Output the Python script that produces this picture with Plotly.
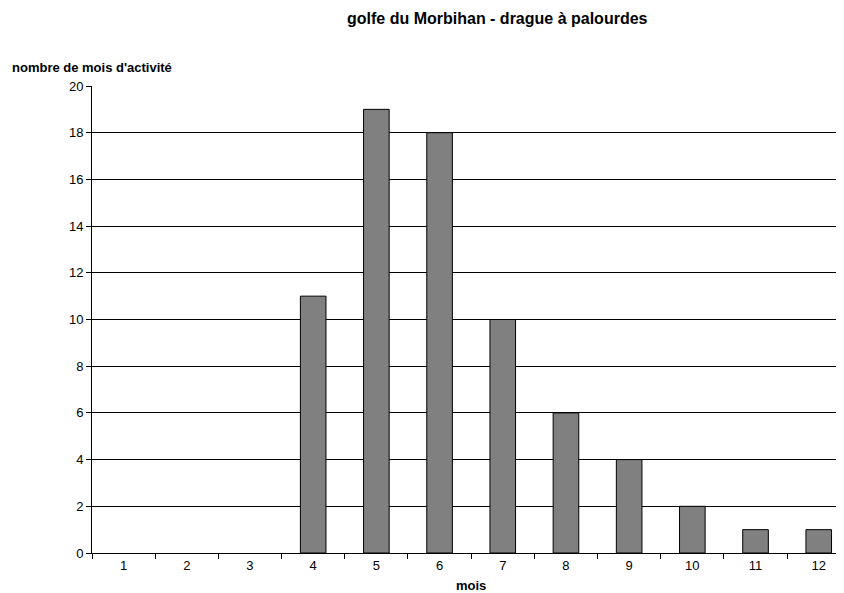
import plotly.graph_objects as go

months = ["1", "2", "3", "4", "5", "6", "7", "8", "9", "10", "11", "12"]
values = [0, 0, 0, 11, 19, 18, 10, 6, 4, 2, 1, 1]
y_ticks = [0, 2, 4, 6, 8, 10, 12, 14, 16, 18, 20]

FONT = "Liberation Sans, Arial, sans-serif"

# page has an 8px body margin: figure is 836x585 and sits at (8, 8)
W, H = 836, 585
L, T, B, R = 84, 78, 40, 0
PW = W - L - R

fig = go.Figure(go.Bar(
    x=months, y=values, width=0.405,
    marker=dict(color="#808080",
                line=dict(color="#000000",
                          width=[1 if v > 0 else 0 for v in values])),
))

fig.update_layout(
    width=W, height=H,
    margin=dict(l=L, r=R, t=T, b=B, pad=0),
    paper_bgcolor="white", plot_bgcolor="white",
    font=dict(family=FONT, size=13, color="#000000"),
    showlegend=False,
)
fig.update_xaxes(
    type="category", categoryorder="array", categoryarray=months,
    range=[-0.5, 11.4], tickson="boundaries",
    ticks="outside", ticklen=5, tickcolor="#000000", tickwidth=1,
    showline=True, linecolor="#000000", linewidth=1,
    showgrid=False, tickfont=dict(size=13),
)
fig.update_yaxes(
    range=[0, 20], tickvals=y_ticks,
    ticks="outside", ticklen=5, tickcolor="#000000", tickwidth=1,
    showline=True, linecolor="#000000", linewidth=1,
    showgrid=True, gridcolor="#000000", gridwidth=1,
    zeroline=False, tickfont=dict(size=13),
)
fig.add_annotation(text="<b>golfe du Morbihan - drague à palourdes</b>",
                   xref="paper", yref="paper", x=(489 - L) / PW, y=1,
                   yshift=68, showarrow=False, xanchor="center", yanchor="middle",
                   font=dict(size=16, family=FONT))
fig.add_annotation(text="<b>nombre de mois d'activité</b>",
                   xref="paper", yref="paper", x=0, y=1, yshift=19,
                   xshift=-(L - 2), showarrow=False, xanchor="left",
                   yanchor="middle", font=dict(size=13, family=FONT))
fig.add_annotation(text="<b>mois</b>",
                   xref="paper", yref="paper", x=(463 - L) / PW, y=0,
                   yshift=-32, showarrow=False, xanchor="center", yanchor="middle",
                   font=dict(size=13, family=FONT))

fig.write_html("out.html")
